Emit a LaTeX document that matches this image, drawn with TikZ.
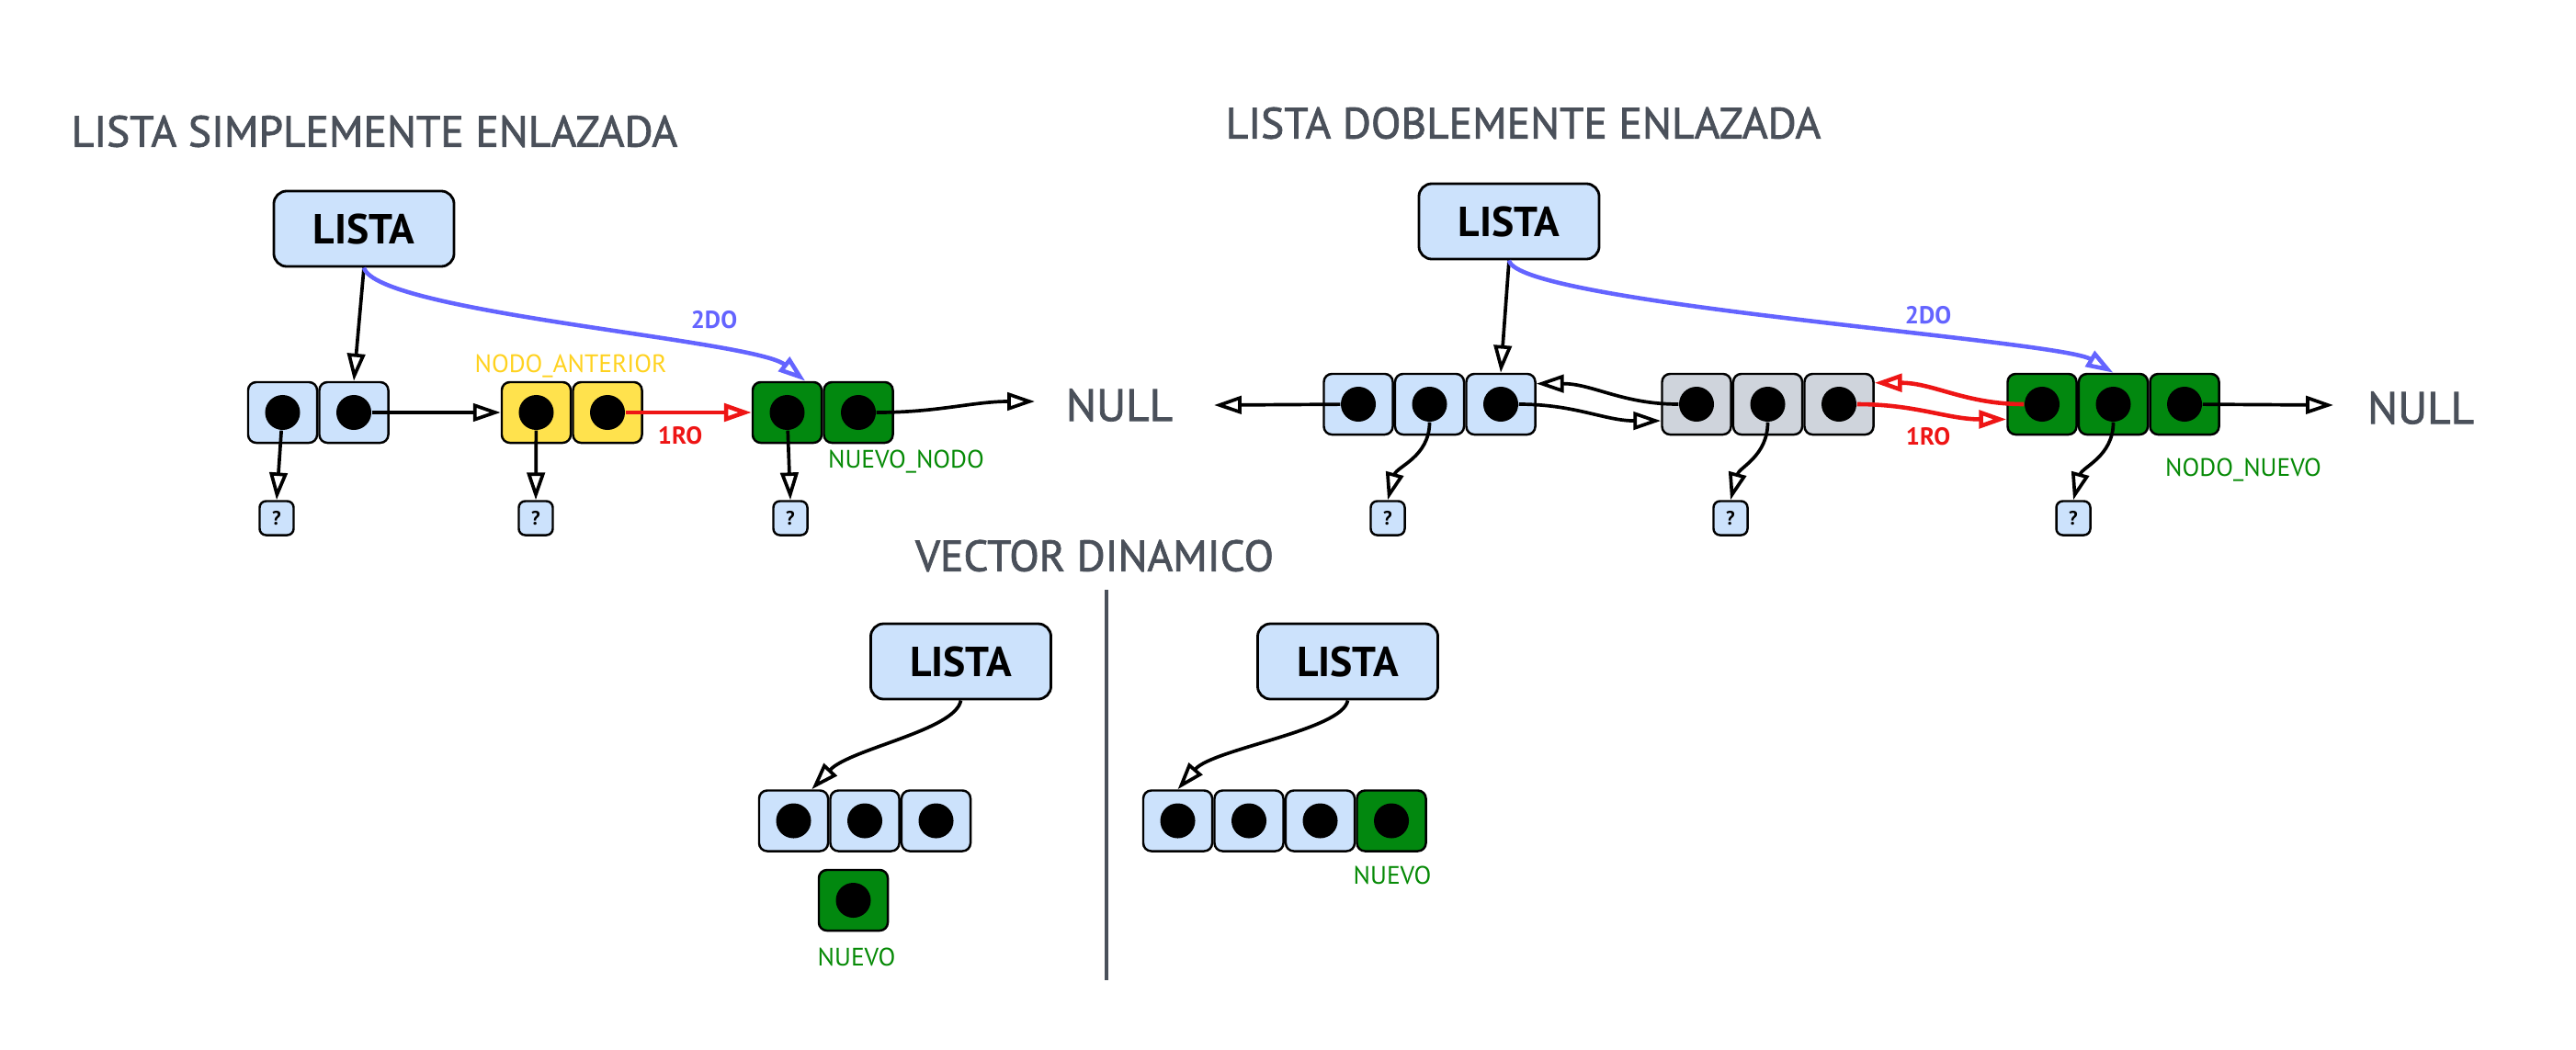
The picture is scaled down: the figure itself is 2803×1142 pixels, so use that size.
\documentclass[tikz,border=0pt]{standalone}
\usepackage{fontspec}
\setmainfont{PT Sans}
\newfontfamily\titlefont[FakeBold=1.6]{PT Sans}
\usetikzlibrary{arrows.meta,positioning}

\definecolor{cellblue}{HTML}{CCE2FC}
\definecolor{cellyellow}{HTML}{FFE24D}
\definecolor{cellgreen}{HTML}{02880F}
\definecolor{cellgrey}{HTML}{CFD4DC}
\definecolor{titlegrey}{HTML}{4A505A}
\definecolor{linkblue}{HTML}{6464FF}
\definecolor{linkred}{HTML}{EE1515}
\definecolor{labelyellow}{HTML}{FFD21F}
\definecolor{labelgreen}{HTML}{068A06}

\tikzset{
  cell/.style={draw, line width=0.7pt, rounded corners=2.5pt, minimum width=0.75cm, minimum height=0.66cm, inner sep=0pt},
  bluecell/.style={cell, fill=cellblue},
  yellowcell/.style={cell, fill=cellyellow},
  greencell/.style={cell, fill=cellgreen},
  greycell/.style={cell, fill=cellgrey},
  dot/.style={circle, fill=black, minimum size=0.38cm, inner sep=0pt},
  withdot/.style={label={[dot, name=#1]center:{}}},
  listabox/.style={draw, line width=0.8pt, fill=cellblue, rounded corners=4pt, minimum width=1.96cm, minimum height=0.82cm, font=\bfseries\fontsize{13}{15}\selectfont},
  qbox/.style={draw, line width=0.7pt, fill=cellblue, rounded corners=2pt, minimum width=0.37cm, minimum height=0.37cm, inner sep=0pt, font=\bfseries\fontsize{6}{7}\selectfont},
  titletext/.style={text=titlegrey, inner sep=0pt, font=\titlefont\fontsize{13.5}{16}\selectfont},
  nulltext/.style={text=titlegrey, inner sep=0pt, font=\titlefont\fontsize{14}{16}\selectfont},
  smalllabel/.style={inner sep=0pt, font=\fontsize{7.8}{9}\selectfont},
  boldlabel/.style={inner sep=0pt, font=\bfseries\fontsize{7.6}{9}\selectfont},
  arr/.style={-{Triangle[open, length=8.5pt, width=5.5pt]}, line width=1.05pt},
  link/.style={arr, line width=1.3pt},
}

\begin{document}
\begin{tikzpicture}[x=0.01cm, y=0.01cm]
    \fill[white] (0,0) rectangle (2803,-1142);
    \useasboundingbox (0,0) rectangle (2803,-1142);

    % lista simplemente enlazada
    \node[titletext, anchor=west] (tsim) at (77,-143) {LISTA SIMPLEMENTE ENLAZADA};
    \node[listabox] (sl) at (396,-249) {LISTA};

    \node[bluecell, withdot=s1d] (s1) at (307.5,-449) {};
    \node[bluecell, withdot=s2d, right=0pt of s1] (s2) {};
    \node[yellowcell, withdot=a1d] (a1) at (583.5,-449) {};
    \node[yellowcell, withdot=a2d, right=0pt of a1] (a2) {};
    \node[greencell, withdot=n1d] (n1) at (856.5,-449) {};
    \node[greencell, withdot=n2d, right=0pt of n1] (n2) {};

    \node[qbox] (q1) at (301,-564) {?};
    \node[qbox] (q2) at (583,-564) {?};
    \node[qbox] (q3) at (860,-564) {?};

    \node[nulltext] (nullm) at (1218,-441) {NULL};
    \coordinate (sEnd) at (1126,-437);

    \node[smalllabel, text=labelyellow] (lant) at (621,-399) {NODO\_ANTERIOR};
    \node[smalllabel, text=labelgreen] (lnue) at (986,-503) {NUEVO\_NODO};
    \node[boldlabel, text=linkblue] (s2do) at (777,-348) {2DO};
    \node[boldlabel, text=linkred] (s1ro) at (740,-474) {1RO};

    \draw[arr] (sl.south) -- (s2.north);
    \draw[link, draw=linkblue] (sl.south) .. controls (410,-340) and (820,-370) .. (n1.60);
    \draw[arr] (s2d) -- (a1.west);
    \draw[link, draw=linkred] (a2d) -- (n1.west);
    \draw[arr] (n2d) to[out=0, in=180] (sEnd);
    \draw[arr] (s1d) -- (q1.north);
    \draw[arr] (a1d) -- (q2.north);
    \draw[arr] (n1d) -- (q3.north);

    % lista doblemente enlazada
    \node[titletext, anchor=west] (tdob) at (1333,-134) {LISTA DOBLEMENTE ENLAZADA};
    \node[listabox] (dl) at (1642,-241) {LISTA};

    \node[bluecell, withdot=b1d] (b1) at (1478,-440) {};
    \node[bluecell, withdot=b2d, right=0pt of b1] (b2) {};
    \node[bluecell, withdot=b3d, right=0pt of b2] (b3) {};
    \node[greycell, withdot=r1d] (r1) at (1846,-440) {};
    \node[greycell, withdot=r2d, right=0pt of r1] (r2) {};
    \node[greycell, withdot=r3d, right=0pt of r2] (r3) {};
    \node[greencell, withdot=m1d] (m1) at (2222,-440) {};
    \node[greencell, withdot=m2d, right=0pt of m1] (m2) {};
    \node[greencell, withdot=m3d, right=0pt of m2] (m3) {};

    \node[qbox] (q4) at (1510,-564) {?};
    \node[qbox] (q5) at (1883,-564) {?};
    \node[qbox] (q6) at (2256,-564) {?};

    \node[nulltext] (nullr) at (2634,-444) {NULL};
    \coordinate (dLeft) at (1321,-441);
    \coordinate (dRight) at (2539,-441);

    \node[smalllabel, text=labelgreen] (lnn) at (2441,-512) {NODO\_NUEVO};
    \node[boldlabel, text=linkblue] (d2do) at (2098,-343) {2DO};
    \node[boldlabel, text=linkred] (d1ro) at (2098,-475) {1RO};

    \draw[arr] (dl.south) -- (b3.north);
    \draw[link, draw=linkblue] (dl.south) .. controls (1650,-330) and (2240,-370) .. (m2.north);
    \draw[arr] (b3d) to[out=0, in=180] (r1.205);
    \draw[arr] (r1d) to[out=180, in=0] (b3.30);
    \draw[link, draw=linkred] (r3d) to[out=0, in=180] (m1.203);
    \draw[link, draw=linkred] (m1d) to[out=180, in=0] (r3.31);
    \draw[arr] (b1d) -- (dLeft);
    \draw[arr] (m3d) -- (dRight);
    \draw[arr] (b2d) to[out=-90, in=75] (q4.north);
    \draw[arr] (r2d) to[out=-90, in=75] (q5.north);
    \draw[arr] (m2d) to[out=-90, in=75] (q6.north);

    % vector dinamico
    \node[titletext] (tvec) at (1191,-605) {VECTOR DINAMICO};
    \draw[titlegrey, line width=1.1pt] (1204,-642) -- (1204,-1067);

    \node[listabox] (vl) at (1045.5,-720) {LISTA};
    \node[bluecell, withdot=v1d] (v1) at (863.5,-893.5) {};
    \node[bluecell, withdot=v2d, right=0pt of v1] (v2) {};
    \node[bluecell, withdot=v3d, right=0pt of v2] (v3) {};
    \node[greencell, withdot=vnd] (vn) at (928.5,-980) {};
    \node[smalllabel, text=labelgreen] (lvn) at (932,-1042) {NUEVO};

    \node[listabox] (vr) at (1466.5,-720) {LISTA};
    \node[bluecell, withdot=w1d] (w1) at (1281.5,-893.5) {};
    \node[bluecell, withdot=w2d, right=0pt of w1] (w2) {};
    \node[bluecell, withdot=w3d, right=0pt of w2] (w3) {};
    \node[greencell, withdot=w4d, right=0pt of w3] (w4) {};
    \node[smalllabel, text=labelgreen] (lwn) at (1515,-953) {NUEVO};

    \draw[arr] (vl.south) .. controls (1040,-795) and (925,-815) .. (v1.60);
    \draw[arr] (vr.south) .. controls (1461,-795) and (1320,-815) .. (w1.north);
\end{tikzpicture}
\end{document}
